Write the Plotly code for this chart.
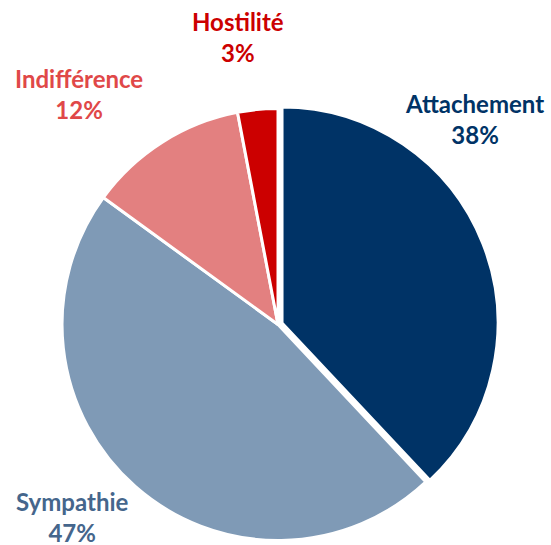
import plotly.graph_objects as go

labels = ["Attachement", "Sympathie", "Indifférence", "Hostilité"]
values = [38, 47, 12, 3]
slice_colors = ["#003366", "#7F9AB6", "#E38080", "#CC0000"]
text_colors = ["#003366", "#45668C", "#E04848", "#CC0000"]
pulls = [0.02, 0, 0, 0]

# label block centre positions in pixels (x, y)
label_pos = [(474, 119), (72, 517), (79, 94), (238, 37)]

W, H = 551, 545

fig = go.Figure(go.Pie(
    labels=labels,
    values=values,
    sort=False,
    direction="clockwise",
    rotation=0,
    pull=pulls,
    marker=dict(colors=slice_colors, line=dict(color="white", width=3)),
    textinfo="none",
    hoverinfo="label+percent",
    showlegend=False,
    domain=dict(x=[0.1047, 0.9044], y=[0.0004, 0.8088]),
))

for lab, val, col, (px, py) in zip(labels, values, text_colors, label_pos):
    fig.add_annotation(
        x=px / W, y=1 - py / H, xref="paper", yref="paper",
        xanchor="center", yanchor="middle",
        text=f"<b>{lab}</b><br><b>{val}%</b>",
        showarrow=False,
        font=dict(family="Lato, Open Sans, sans-serif", size=24, color=col),
        align="center",
    )

fig.update_layout(
    width=W, height=H,
    margin=dict(l=0, r=0, t=0, b=0),
    paper_bgcolor="white",
    plot_bgcolor="white",
)

fig.write_html("out.html", config={"displayModeBar": False},
               post_script="document.body.style.margin='0';")
